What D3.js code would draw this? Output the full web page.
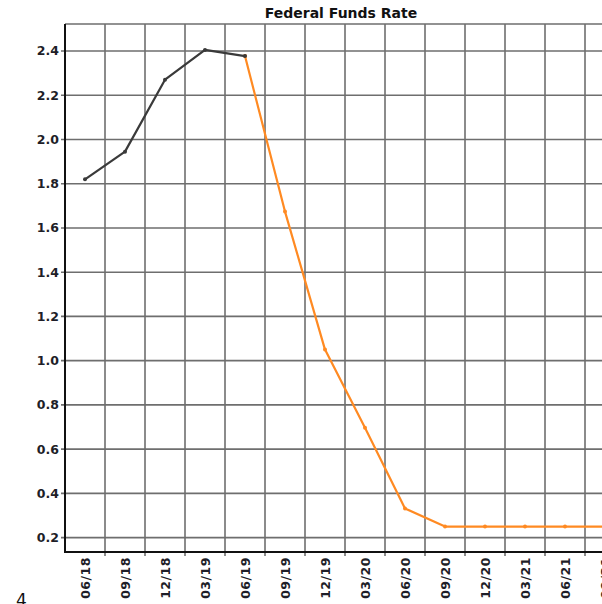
<!DOCTYPE html>
<html>
<head>
<meta charset="utf-8">
<script src="https://cdn.jsdelivr.net/npm/d3@7"></script>
<style>
  body { margin: 0; background: #fff; }
  svg { display: block; font-family: "DejaVu Sans", Verdana, sans-serif; }
  .tick-label { font-size: 12.5px; font-weight: bold; fill: #1e1e28; }
</style>
</head>
<body>
<div id="chart"></div>
<script>
// quarters along the x axis (the last one is cut off by the frame)
const quarters = ['06/18', '09/18', '12/18', '03/19', '06/19', '09/19', '12/19',
                  '03/20', '06/20', '09/20', '12/20', '03/21', '06/21', '09/21'];
// observed rate (dark line)
const actual = [1.82, 1.945, 2.27, 2.405, 2.377, null, null, null, null, null, null, null, null, null];
// implied path (orange line), starts from the last observed point
const implied = [null, null, null, null, 2.377, 1.674, 1.05, 0.697, 0.332, 0.25, 0.25, 0.25, 0.25, 0.25];
const yTicks = [0.2, 0.4, 0.6, 0.8, 1.0, 1.2, 1.4, 1.6, 1.8, 2.0, 2.2, 2.4];
const yDomain = [0.135, 2.522];

const [width, height] = [602, 604];
const plot = { left: 65, top: 24, right: 625, bottom: 552 };

const svg = d3.select('#chart').append('svg').attr('width', width).attr('height', height);

const x = d3.scaleBand().domain(quarters).range([plot.left, plot.right]).padding(0);
const y = d3.scaleLinear().domain(yDomain).range([plot.bottom, plot.top]);

// grid
const grid = svg.append('g').attr('stroke', '#6e6e6e').attr('stroke-width', 1.6);
grid.selectAll('line.h').data(yTicks).enter().append('line')
  .attr('x1', plot.left - 4).attr('x2', plot.right)
  .attr('y1', d => y(d)).attr('y2', d => y(d));
grid.append('line').attr('x1', plot.left).attr('x2', plot.right).attr('y1', plot.top).attr('y2', plot.top);
grid.selectAll('line.v').data(quarters.slice(1).concat(['end'])).enter().append('line')
  .attr('x1', (d, i) => x(quarters[0]) + (i + 1) * x.bandwidth())
  .attr('x2', (d, i) => x(quarters[0]) + (i + 1) * x.bandwidth())
  .attr('y1', plot.top).attr('y2', plot.bottom + 4);

// axes frame
svg.append('line').attr('x1', plot.left).attr('x2', plot.left).attr('y1', plot.top).attr('y2', plot.bottom + 1)
  .attr('stroke', '#111').attr('stroke-width', 2);
svg.append('line').attr('x1', plot.left).attr('x2', plot.right).attr('y1', plot.bottom).attr('y2', plot.bottom)
  .attr('stroke', '#111').attr('stroke-width', 2);

// y labels
svg.append('g').selectAll('text').data(yTicks).enter().append('text')
  .attr('class', 'tick-label')
  .attr('x', plot.left - 6).attr('y', d => y(d)).attr('dy', '0.36em')
  .attr('text-anchor', 'end')
  .text(d => d3.format('.1f')(d));

// x labels, rotated
svg.append('g').selectAll('text').data(quarters).enter().append('text')
  .attr('class', 'tick-label')
  .attr('transform', d => `translate(${x(d) + x.bandwidth() / 2}, ${plot.bottom + 5}) rotate(-90)`)
  .attr('dy', '0.36em')
  .attr('text-anchor', 'end')
  .attr('letter-spacing', '0.5px')
  .text(d => d);

// series
const series = [
  { values: implied, color: '#ff8a22' },
  { values: actual, color: '#3a3a3a' }
];
const line = d3.line()
  .defined(d => d.v != null)
  .x(d => x(d.q) + x.bandwidth() / 2)
  .y(d => y(d.v));

series.forEach(s => {
  const pts = quarters.map((q, i) => ({ q: q, v: s.values[i] }));
  svg.append('path').datum(pts)
    .attr('d', line)
    .attr('fill', 'none')
    .attr('stroke', s.color)
    .attr('stroke-width', 2.2)
    .attr('stroke-linejoin', 'round');
  svg.append('g').selectAll('circle').data(pts.filter(d => d.v != null)).enter().append('circle')
    .attr('cx', d => x(d.q) + x.bandwidth() / 2)
    .attr('cy', d => y(d.v))
    .attr('r', 2)
    .attr('fill', s.color);
});

// title
svg.append('text')
  .attr('x', 341).attr('y', 18)
  .attr('text-anchor', 'middle')
  .attr('font-size', '14px').attr('font-weight', 'bold').attr('fill', '#111')
  .text('Federal Funds Rate');

// stray digit at lower left
svg.append('text')
  .attr('x', 16).attr('y', 606)
  .attr('font-size', '17px').attr('fill', '#111')
  .text('4');
</script>
</body>
</html>
